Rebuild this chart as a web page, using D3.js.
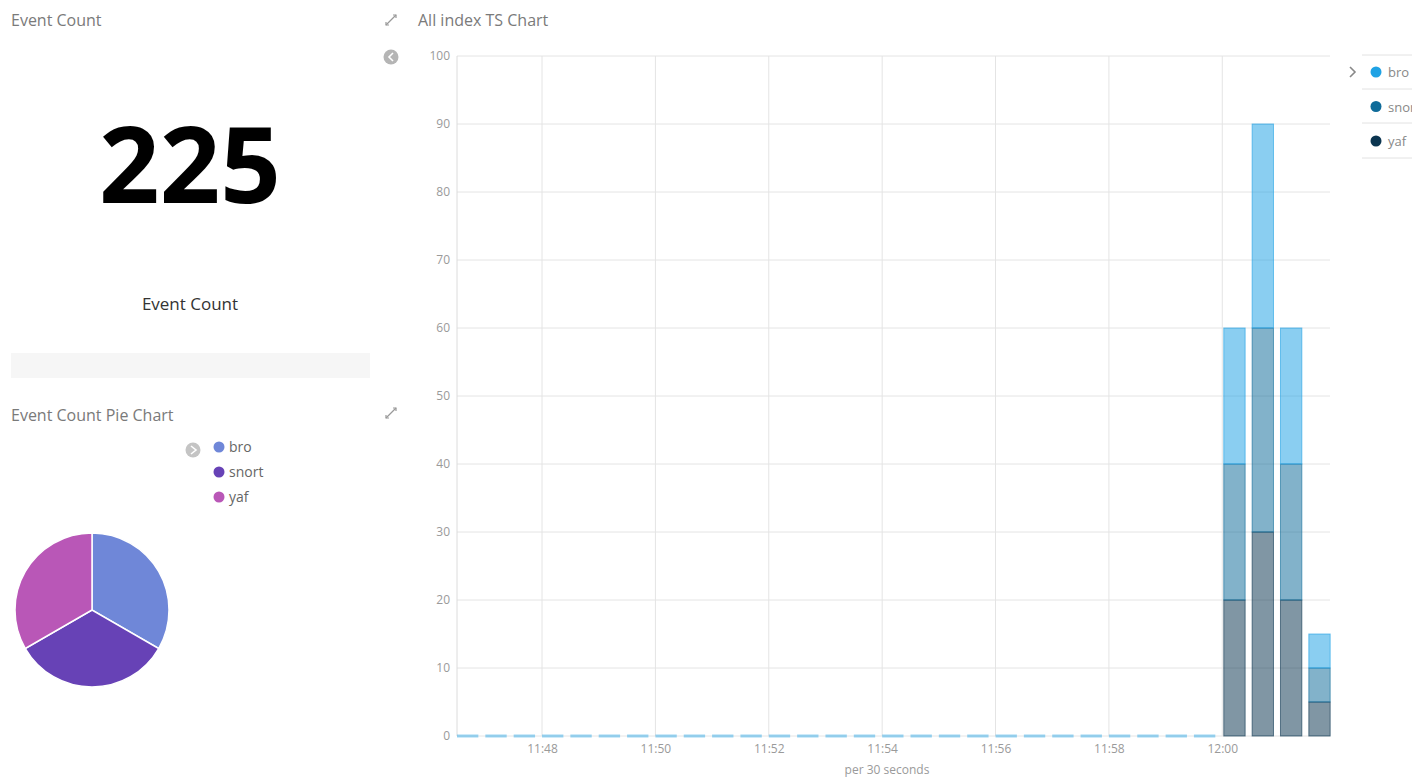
<!DOCTYPE html>
<html>
<head>
<meta charset="utf-8">
<script src="https://cdn.jsdelivr.net/npm/d3@7"></script>
<style>
  html, body { margin: 0; padding: 0; background: #fff; overflow: hidden; }
  svg { display: block; font-family: "Open Sans", "Noto Sans", sans-serif; }
</style>
</head>
<body>
<svg id="c" width="1412" height="778"></svg>
<script>
// ---------- data ----------
const bucketTimes = [
  "11:46:30","11:47:00","11:47:30","11:48:00","11:48:30","11:49:00","11:49:30","11:50:00",
  "11:50:30","11:51:00","11:51:30","11:52:00","11:52:30","11:53:00","11:53:30","11:54:00",
  "11:54:30","11:55:00","11:55:30","11:56:00","11:56:30","11:57:00","11:57:30","11:58:00",
  "11:58:30","11:59:00","11:59:30","12:00:00","12:00:30","12:01:00","12:01:30"
];
const broCounts   = [0,0,0,0,0,0,0,0,0,0,0,0,0,0,0,0,0,0,0,0,0,0,0,0,0,0,0,20,30,20,5];
const snortCounts = [0,0,0,0,0,0,0,0,0,0,0,0,0,0,0,0,0,0,0,0,0,0,0,0,0,0,0,20,30,20,5];
const yafCounts   = [0,0,0,0,0,0,0,0,0,0,0,0,0,0,0,0,0,0,0,0,0,0,0,0,0,0,0,20,30,20,5];
const seriesNames = ["bro", "snort", "yaf"];
const xTickLabels = ["11:48","11:50","11:52","11:54","11:56","11:58","12:00"];
const yTicks = [0,10,20,30,40,50,60,70,80,90,100];
const pieLabels = ["bro", "snort", "yaf"];
const pieValues = [75, 75, 75];
const totalCount = 225;
const xDomain = ["11:46:30", "12:01:54"];

// ---------- styles ----------
const seriesColors = { bro: "#1fa2e4", snort: "#0f6b99", yaf: "#0b3550" };
const pieColors = ["#6f87d8", "#6742b6", "#b957b7"];
const parse = s => d3.timeParse("%H:%M:%S")(s.length === 5 ? s + ":00" : s);

const svg = d3.select("#c");

// ---------- left panel ----------
svg.append("text").attr("x", 11).attr("y", 26).attr("font-size", 16).attr("fill", "#7a7a7a").text("Event Count");
svg.append("text").attr("x", 190).attr("y", 203).attr("text-anchor", "middle")
  .attr("font-size", 106).attr("font-weight", 700).attr("fill", "#000").text(totalCount);
svg.append("text").attr("x", 190).attr("y", 310).attr("text-anchor", "middle")
  .attr("font-size", 17).attr("fill", "#333").text("Event Count");
svg.append("rect").attr("x", 11).attr("y", 353).attr("width", 359).attr("height", 25).attr("fill", "#f6f6f6");
svg.append("text").attr("x", 11).attr("y", 421).attr("font-size", 16).attr("fill", "#7a7a7a").text("Event Count Pie Chart");

// expand icons
function expandIcon(x, y) {
  const g = svg.append("g").attr("transform", `translate(${x},${y})`).attr("stroke", "#999").attr("fill", "none");
  g.append("line").attr("x1", -5).attr("y1", 5).attr("x2", 5).attr("y2", -5).attr("stroke-width", 1.2);
  g.append("path").attr("d", "M2,-5 L5,-5 L5,-2").attr("stroke-width", 1.2);
  g.append("path").attr("d", "M-5,2 L-5,5 L-2,5").attr("stroke-width", 1.2);
}
expandIcon(391, 20);
expandIcon(391, 413);

// pie legend
const pl = svg.append("g");
pl.append("circle").attr("cx", 193).attr("cy", 450).attr("r", 7.5).attr("fill", "#c4c4c4");
pl.append("path").attr("d", "M191,446 L196,450 L191,454").attr("stroke", "#fff").attr("stroke-width", 1.6).attr("fill", "none");
pieLabels.forEach((l, i) => {
  pl.append("circle").attr("cx", 219).attr("cy", 447 + i * 25).attr("r", 5.5).attr("fill", pieColors[i]);
  pl.append("text").attr("x", 229).attr("y", 452 + i * 25).attr("font-size", 14).attr("fill", "#666").text(l);
});

// pie
const pie = d3.pie().sort(null)(pieValues);
const arc = d3.arc().innerRadius(0).outerRadius(77);
svg.append("g").attr("transform", "translate(92,610)")
  .selectAll("path").data(pie).join("path")
  .attr("d", arc).attr("fill", (d, i) => pieColors[i])
  .attr("stroke", "#fff").attr("stroke-width", 1.5);

// ---------- main chart ----------
svg.append("text").attr("x", 418).attr("y", 26).attr("font-size", 16).attr("fill", "#7a7a7a").text("All index TS Chart");
// clock-ish toggle
svg.append("circle").attr("cx", 391).attr("cy", 57).attr("r", 7.5).attr("fill", "#b5b5b5");
svg.append("path").attr("d", "M393,53 L389,57 L393,61").attr("stroke", "#fff").attr("stroke-width", 1.6).attr("fill", "none");

const L = 457, R = 1330, T = 56, B = 736;
const x = d3.scaleTime().domain(xDomain.map(parse)).range([L, R]);
const y = d3.scaleLinear().domain([0, 100]).range([B, T]);

const grid = svg.append("g");
grid.selectAll("line.h").data(yTicks).join("line")
  .attr("x1", L).attr("x2", R).attr("y1", d => y(d)).attr("y2", d => y(d))
  .attr("stroke", "#e4e4e4").attr("stroke-width", 1);
grid.selectAll("line.v").data(xTickLabels).join("line")
  .attr("x1", d => x(parse(d))).attr("x2", d => x(parse(d))).attr("y1", T).attr("y2", B)
  .attr("stroke", "#e4e4e4").attr("stroke-width", 1);
grid.append("line").attr("x1", L).attr("x2", L).attr("y1", T).attr("y2", B).attr("stroke", "#dcdcdc");

// y axis
const yAxis = d3.axisLeft(y).tickValues(yTicks).tickSize(0).tickPadding(0);
const yg = svg.append("g").attr("transform", `translate(${L - 7},0)`).call(yAxis);
yg.select(".domain").remove();
yg.selectAll("text").attr("font-size", 12).attr("fill", "#9a9a9a").attr("font-family", "Open Sans");

// x axis
const xAxis = d3.axisBottom(x).tickValues(xTickLabels.map(parse)).tickFormat(d3.timeFormat("%H:%M")).tickSize(0).tickPadding(0);
const xg = svg.append("g").attr("transform", `translate(0,${B + 8})`).call(xAxis);
xg.select(".domain").remove();
xg.selectAll("text").attr("font-size", 12).attr("fill", "#9a9a9a").attr("font-family", "Open Sans");
svg.append("text").attr("x", 887).attr("y", 774).attr("text-anchor", "middle")
  .attr("font-size", 12).attr("fill", "#9a9a9a").text("per 30 seconds");

// stacked bars
const rows = bucketTimes.map((t, i) => ({ t: parse(t), bro: broCounts[i], snort: snortCounts[i], yaf: yafCounts[i] }));
const stack = d3.stack().keys(["yaf", "snort", "bro"])(rows);
const bucketW = t => x(new Date(t.getTime() + 30000)) - x(t);
const bars = svg.append("g");
stack.forEach(layer => {
  const col = seriesColors[layer.key];
  bars.selectAll(null).data(layer.filter(d => d[1] - d[0] > 0)).join("rect")
    .attr("x", d => x(d.data.t) + 1.5)
    .attr("width", d => bucketW(d.data.t) - 7)
    .attr("y", d => y(d[1]))
    .attr("height", d => y(d[0]) - y(d[1]))
    .attr("fill", col).attr("fill-opacity", 0.52)
    .attr("stroke", col).attr("stroke-opacity", 0.6).attr("stroke-width", 1);
});
// zero-value buckets drawn as flat bars
const broLayer = stack.find(l => l.key === "bro");
bars.selectAll(null).data(broLayer.filter(d => d[1] - d[0] === 0)).join("rect")
  .attr("x", d => x(d.data.t))
  .attr("width", d => bucketW(d.data.t) - 7)
  .attr("y", d => y(d[1]) - 1.5)
  .attr("height", 3)
  .attr("fill", seriesColors.bro).attr("fill-opacity", 0.45);

// right legend
const lg = svg.append("g");
[55, 89, 123, 158].forEach(yy => lg.append("line").attr("x1", 1362).attr("x2", 1412).attr("y1", yy).attr("y2", yy).attr("stroke", "#e2e2e2"));
lg.append("path").attr("d", "M1350,67 L1355,72 L1350,77").attr("stroke", "#888").attr("stroke-width", 1.6).attr("fill", "none");
seriesNames.forEach((n, i) => {
  lg.append("circle").attr("cx", 1376).attr("cy", 72 + i * 34.5).attr("r", 5.5).attr("fill", seriesColors[n]);
  lg.append("text").attr("x", 1388).attr("y", 77 + i * 34.5).attr("font-size", 13).attr("fill", "#888").text(n);
});
</script>
</body>
</html>
